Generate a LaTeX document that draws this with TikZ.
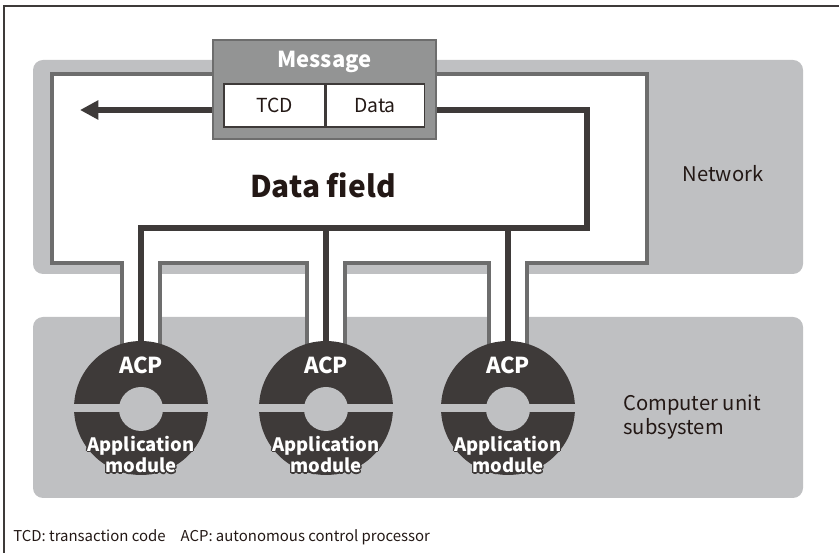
\documentclass[tikz,border=0pt]{standalone}
\usepackage{fontspec}
\setmainfont{Noto Sans CJK JP}
\usepackage[copies]{contour}
\usetikzlibrary{arrows.meta,positioning,calc}
\definecolor{bandgray}{HTML}{BFC0C2}
\definecolor{linegray}{HTML}{6D6D6D}
\definecolor{darkline}{HTML}{3E3A39}
\definecolor{msggray}{HTML}{939494}
\definecolor{textdark}{HTML}{231815}
\contourlength{0.6pt}
\tikzset{
	band/.style={fill=bandgray,rounded corners=0.2cm},
	pipe/.style={draw=linegray,line width=1.9pt,fill=white},
	bus/.style={draw=darkline,line width=3pt},
	acpdisk/.style={circle,fill=darkline,minimum size=2.68cm,inner sep=0pt},
	msgbox/.style={rectangle,draw=linegray,line width=1.2pt,fill=msggray,minimum width=4.46cm,minimum height=1.98cm,inner sep=0pt},
	cell/.style={rectangle,draw=darkline,line width=0.6pt,fill=white,minimum height=0.86cm,inner sep=0pt,text=textdark,font=\fontsize{11}{13}\selectfont},
	plain/.style={text=textdark,inner sep=0pt,font=\fontsize{11.5}{14}\selectfont},
}
\begin{document}
\begin{tikzpicture}[x=0.02cm,y=-0.02cm]
	\useasboundingbox (0,0) rectangle (839,553);
	\draw [darkline,line width=0.6pt] (839,6) -- (4,6) -- (4,553);
	% the two bands
	\fill [band] (33,60) rectangle (803,274);
	\fill [band] (33,317) rectangle (803,498);
	% white data field with its channels down to the ACPs
	\draw [pipe] (52,74) -- (647,74) -- (647,263) -- (527,263) -- (527,360) -- (489,360) -- (489,263) -- (345,263) -- (345,360) -- (307,360) -- (307,263) -- (160,263) -- (160,360) -- (122,360) -- (122,263) -- (52,263) -- cycle;
	% ACP discs
	\foreach \n/\x in {1/141,2/326,3/508}{
		\node [acpdisk] (acp\n) at (\x,408) {};
		\fill [bandgray] ($(acp\n.west)+(0,-4)$) rectangle ($(acp\n.east)+(0,4)$);
		\fill [bandgray] ($(acp\n.center)+(0,1)$) circle (22);
		\node [white,inner sep=0pt,font=\bfseries\fontsize{12.5}{14}\selectfont] (acplbl\n) at (\x,365) {ACP};
		\node [white,inner sep=0pt,align=center,font=\bfseries\fontsize{10.5}{12.5}\selectfont] (app\n) at (\x,455) {\contour{darkline}{Application}\\\contour{darkline}{module}};
	}
	% bus from the message to the ACPs
	\coordinate (busy) at (0,110);
	\coordinate (busfloor) at (0,228);
	\node [msgbox] (msg) at (324.5,89.5) {};
	\draw [bus] (msg.east |- busy) -- (587,110) -- (587,228) -| (acp1.north);
	\draw [bus] (acp2.north) -- (acp2.north |- busfloor);
	\draw [bus] (acp3.north) -- (acp3.north |- busfloor);
	\draw [bus,-{Triangle[length=10.5pt,width=10.5pt]}] (msg.west |- busy) -- (80,110);
	% message contents
	\node [white,inner sep=0pt,font=\bfseries\fontsize{12.5}{14}\selectfont] (msglbl) at (324.5,62) {Message};
	\node [cell,minimum width=2.02cm] (tcd) at (274.5,105.5) {TCD};
	\node [cell,minimum width=1.96cm,right=0pt of tcd] (data) {Data};
	% labels
	\node [text=textdark,inner sep=0pt,font=\bfseries\fontsize{17}{20}\selectfont] (field) at (323,185) {Data field};
	\node [plain] (net) at (723,174) {Network};
	\node [plain,anchor=west,align=left] (cus) at (623,417) {Computer unit\\subsystem};
	\node [text=textdark,inner sep=0pt,anchor=west,font=\fontsize{8.5}{10}\selectfont] (legend) at (13,537) {TCD: transaction code\quad ACP: autonomous control processor};
\end{tikzpicture}
\end{document}
